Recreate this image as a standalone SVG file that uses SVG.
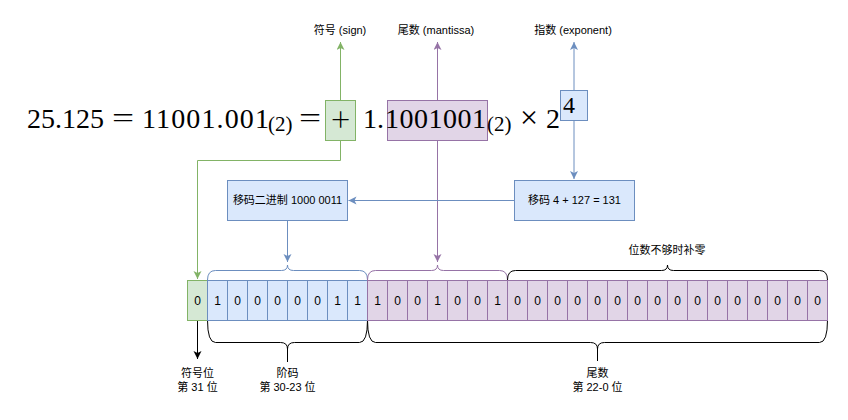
<svg xmlns="http://www.w3.org/2000/svg" width="848" height="420" viewBox="0 0 848 420">
<style>
.lbl{font-family:"Liberation Sans","Noto Sans CJK SC",sans-serif;font-size:11px;fill:#000;text-anchor:middle}
.math{font-family:"Liberation Serif","DejaVu Serif",serif;fill:#000}
.dig{font-family:"Liberation Sans",sans-serif;font-size:12px;fill:#000;text-anchor:middle}
.g{fill:#d5e8d4;stroke:#82b366;stroke-width:1}
.b{fill:#dae8fc;stroke:#6c8ebf;stroke-width:1}
.p{fill:#e1d5e7;stroke:#9673a6;stroke-width:1}
.br{fill:none;stroke-width:1}
.e{fill:none;stroke-width:1}
</style>
<defs>
<marker id="aG" markerUnits="userSpaceOnUse" markerWidth="9" markerHeight="9" refX="8" refY="4" orient="auto"><path d="M0,0 L8,4 L0,8 L2,4 Z" fill="#82b366"/></marker>
<marker id="aP" markerUnits="userSpaceOnUse" markerWidth="9" markerHeight="9" refX="8" refY="4" orient="auto"><path d="M0,0 L8,4 L0,8 L2,4 Z" fill="#9673a6"/></marker>
<marker id="aB" markerUnits="userSpaceOnUse" markerWidth="9" markerHeight="9" refX="8" refY="4" orient="auto"><path d="M0,0 L8,4 L0,8 L2,4 Z" fill="#6c8ebf"/></marker>
<marker id="aK" markerUnits="userSpaceOnUse" markerWidth="9" markerHeight="9" refX="8" refY="4" orient="auto"><path d="M0,0 L8,4 L0,8 L2,4 Z" fill="#000"/></marker>
</defs>
<rect width="848" height="420" fill="#fff"/>

<!-- formula -->
<g id="formula">
<text class="math" x="27" y="128" font-size="28" textLength="77">25.125</text>
<text class="math" transform="translate(123,127) scale(1.4,1)" font-size="28" text-anchor="middle">=</text>
<text class="math" x="142" y="128" font-size="28" textLength="127">11001.001</text>
<text class="math" x="268" y="131" font-size="21">(2)</text>
<text class="math" transform="translate(310,127) scale(1.4,1)" font-size="28" text-anchor="middle">=</text>
</g>
<g id="sign-box">
<rect class="g" x="325.5" y="100.5" width="30" height="40"/>
<text x="340.5" y="131" font-family="Lato, 'Liberation Serif', serif" font-weight="300" font-size="34" text-anchor="middle" fill="#000">+</text>
</g>
<g id="formula-one">
<text class="math" x="363" y="128" font-size="28">1.</text>
</g>
<g id="mantissa-box">
<rect class="p" x="387.5" y="100.5" width="100" height="40"/>
<text class="math" x="385" y="128" font-size="28" textLength="101">1001001</text>
</g>
<g id="formula-tail">
<text class="math" x="487" y="131" font-size="21">(2)</text>
<text class="math" x="529" y="128" font-size="32" text-anchor="middle">×</text>
<text class="math" x="546" y="128" font-size="28">2</text>
</g>
<g id="exponent-box">
<rect class="b" x="560.5" y="90.5" width="27" height="30"/>
<text class="math" x="563" y="113" font-size="24">4</text>
</g>

<!-- top labels -->
<g id="label-sign"><text class="lbl" x="340" y="34">符号 (sign)</text></g>
<g id="label-mantissa"><text class="lbl" x="436" y="34">尾数 (mantissa)</text></g>
<g id="label-exponent"><text class="lbl" x="573" y="34">指数 (exponent)</text></g>

<!-- middle boxes -->
<g id="biased-binary">
<rect class="b" x="227.5" y="180.5" width="120" height="40"/>
<text class="lbl" x="287.5" y="204">移码二进制 1000 0011</text>
</g>
<g id="biased-calc">
<rect class="b" x="514.5" y="180.5" width="120" height="40"/>
<text class="lbl" x="574.5" y="204">移码 4 + 127 = 131</text>
</g>

<!-- connectors -->
<g id="connectors">
<path class="e" stroke="#82b366" d="M340.5,100.5 V42" marker-end="url(#aG)"/>
<path class="e" stroke="#9673a6" d="M437.5,100.5 V42" marker-end="url(#aP)"/>
<path class="e" stroke="#6c8ebf" d="M574,90.5 V42" marker-end="url(#aB)"/>
<path class="e" stroke="#82b366" d="M340.5,140.5 V160.5 H197.5 V279" marker-end="url(#aG)"/>
<path class="e" stroke="#9673a6" d="M437.5,140.5 V262" marker-end="url(#aP)"/>
<path class="e" stroke="#6c8ebf" d="M574,120.5 V179" marker-end="url(#aB)"/>
<path class="e" stroke="#6c8ebf" d="M514.5,200.5 H348.5" marker-end="url(#aB)"/>
<path class="e" stroke="#6c8ebf" d="M287.5,220.5 V262" marker-end="url(#aB)"/>
<path class="e" stroke="#000" d="M197.5,320.5 V359" marker-end="url(#aK)"/>
</g>

<!-- braces -->
<g id="brace-exp-top"><path class="br" stroke="#6c8ebf" d="M207.5,280 Q207.5,270.5 215.5,270.5 L281.5,270.5 Q287.5,270.5 287.5,265 Q287.5,270.5 293.5,270.5 L359.5,270.5 Q367.5,270.5 367.5,280"/></g>
<g id="brace-man-top"><path class="br" stroke="#9673a6" d="M367.5,280 Q367.5,270.5 375.5,270.5 L431.5,270.5 Q437.5,270.5 437.5,265 Q437.5,270.5 443.5,270.5 L499.5,270.5 Q507.5,270.5 507.5,280"/></g>
<g id="brace-pad-top"><path class="br" stroke="#000" d="M507.5,280 Q507.5,270.5 515.5,270.5 L661.5,270.5 Q667.5,270.5 667.5,265 Q667.5,270.5 673.5,270.5 L819.5,270.5 Q827.5,270.5 827.5,280"/></g>
<g id="label-pad"><text class="lbl" x="667" y="254">位数不够时补零</text></g>
<g id="brace-exp-bottom"><path class="br" stroke="#000" d="M207.5,320 Q207.5,342.5 215.5,342.5 L280.5,342.5 Q287.5,342.5 287.5,349 L287.5,362 M287.5,349 Q287.5,342.5 294.5,342.5 L359.5,342.5 Q367.5,342.5 367.5,320"/></g>
<g id="brace-man-bottom"><path class="br" stroke="#000" d="M367.5,320 Q367.5,342.5 375.5,342.5 L590.5,342.5 Q597.5,342.5 597.5,349 L597.5,361 M597.5,349 Q597.5,342.5 604.5,342.5 L819.5,342.5 Q827.5,342.5 827.5,320"/></g>

<!-- bits -->
<g id="bit-31"><rect class="g" x="187.5" y="280.5" width="20" height="40"/><text class="dig" x="197.5" y="305">0</text></g>
<g id="bit-30"><rect class="b" x="207.5" y="280.5" width="20" height="40"/><text class="dig" x="217.5" y="305">1</text></g>
<g id="bit-29"><rect class="b" x="227.5" y="280.5" width="20" height="40"/><text class="dig" x="237.5" y="305">0</text></g>
<g id="bit-28"><rect class="b" x="247.5" y="280.5" width="20" height="40"/><text class="dig" x="257.5" y="305">0</text></g>
<g id="bit-27"><rect class="b" x="267.5" y="280.5" width="20" height="40"/><text class="dig" x="277.5" y="305">0</text></g>
<g id="bit-26"><rect class="b" x="287.5" y="280.5" width="20" height="40"/><text class="dig" x="297.5" y="305">0</text></g>
<g id="bit-25"><rect class="b" x="307.5" y="280.5" width="20" height="40"/><text class="dig" x="317.5" y="305">0</text></g>
<g id="bit-24"><rect class="b" x="327.5" y="280.5" width="20" height="40"/><text class="dig" x="337.5" y="305">1</text></g>
<g id="bit-23"><rect class="b" x="347.5" y="280.5" width="20" height="40"/><text class="dig" x="357.5" y="305">1</text></g>
<g id="bit-22"><rect class="p" x="367.5" y="280.5" width="20" height="40"/><text class="dig" x="377.5" y="305">1</text></g>
<g id="bit-21"><rect class="p" x="387.5" y="280.5" width="20" height="40"/><text class="dig" x="397.5" y="305">0</text></g>
<g id="bit-20"><rect class="p" x="407.5" y="280.5" width="20" height="40"/><text class="dig" x="417.5" y="305">0</text></g>
<g id="bit-19"><rect class="p" x="427.5" y="280.5" width="20" height="40"/><text class="dig" x="437.5" y="305">1</text></g>
<g id="bit-18"><rect class="p" x="447.5" y="280.5" width="20" height="40"/><text class="dig" x="457.5" y="305">0</text></g>
<g id="bit-17"><rect class="p" x="467.5" y="280.5" width="20" height="40"/><text class="dig" x="477.5" y="305">0</text></g>
<g id="bit-16"><rect class="p" x="487.5" y="280.5" width="20" height="40"/><text class="dig" x="497.5" y="305">1</text></g>
<g id="bit-15"><rect class="p" x="507.5" y="280.5" width="20" height="40"/><text class="dig" x="517.5" y="305">0</text></g>
<g id="bit-14"><rect class="p" x="527.5" y="280.5" width="20" height="40"/><text class="dig" x="537.5" y="305">0</text></g>
<g id="bit-13"><rect class="p" x="547.5" y="280.5" width="20" height="40"/><text class="dig" x="557.5" y="305">0</text></g>
<g id="bit-12"><rect class="p" x="567.5" y="280.5" width="20" height="40"/><text class="dig" x="577.5" y="305">0</text></g>
<g id="bit-11"><rect class="p" x="587.5" y="280.5" width="20" height="40"/><text class="dig" x="597.5" y="305">0</text></g>
<g id="bit-10"><rect class="p" x="607.5" y="280.5" width="20" height="40"/><text class="dig" x="617.5" y="305">0</text></g>
<g id="bit-9"><rect class="p" x="627.5" y="280.5" width="20" height="40"/><text class="dig" x="637.5" y="305">0</text></g>
<g id="bit-8"><rect class="p" x="647.5" y="280.5" width="20" height="40"/><text class="dig" x="657.5" y="305">0</text></g>
<g id="bit-7"><rect class="p" x="667.5" y="280.5" width="20" height="40"/><text class="dig" x="677.5" y="305">0</text></g>
<g id="bit-6"><rect class="p" x="687.5" y="280.5" width="20" height="40"/><text class="dig" x="697.5" y="305">0</text></g>
<g id="bit-5"><rect class="p" x="707.5" y="280.5" width="20" height="40"/><text class="dig" x="717.5" y="305">0</text></g>
<g id="bit-4"><rect class="p" x="727.5" y="280.5" width="20" height="40"/><text class="dig" x="737.5" y="305">0</text></g>
<g id="bit-3"><rect class="p" x="747.5" y="280.5" width="20" height="40"/><text class="dig" x="757.5" y="305">0</text></g>
<g id="bit-2"><rect class="p" x="767.5" y="280.5" width="20" height="40"/><text class="dig" x="777.5" y="305">0</text></g>
<g id="bit-1"><rect class="p" x="787.5" y="280.5" width="20" height="40"/><text class="dig" x="797.5" y="305">0</text></g>
<g id="bit-0"><rect class="p" x="807.5" y="280.5" width="20" height="40"/><text class="dig" x="817.5" y="305">0</text></g>

<!-- bottom labels -->
<g id="label-sign-bit"><text class="lbl" x="197.5" y="377">符号位</text><text class="lbl" x="197.5" y="391">第 31 位</text></g>
<g id="label-exp-bits"><text class="lbl" x="287.5" y="377">阶码</text><text class="lbl" x="287.5" y="391">第 30-23 位</text></g>
<g id="label-man-bits"><text class="lbl" x="597.5" y="377">尾数</text><text class="lbl" x="597.5" y="391">第 22-0 位</text></g>
</svg>
